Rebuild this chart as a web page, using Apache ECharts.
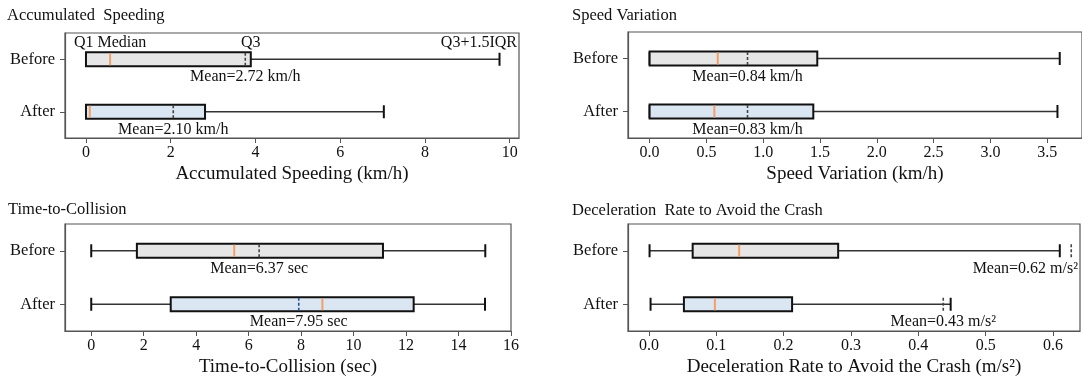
<!DOCTYPE html>
<html>
<head>
<meta charset="utf-8">
<script src="https://cdn.jsdelivr.net/npm/echarts@6/dist/echarts.min.js"></script>
<style>
  html, body { margin: 0; padding: 0; background: #fff; }
  #main { width: 1082px; height: 382px; }
</style>
</head>
<body>
<div id="main"></div>
<script>
const cats = ['Before', 'After'];

// boxes: [low whisker, Q1, median, Q3, high whisker]
const speedingBox = [[0, 0, 0.57, 3.89, 9.76], [0, 0, 0.09, 2.81, 7.03]];
const speedingMeanLine = [3.76, 2.06];
const speedingMean = [2.72, 2.10];
const speedingTicks = [0, 2, 4, 6, 8, 10];
const speedingNotes = ['Q1 Median', 'Q3', 'Q3+1.5IQR'];
const speedingNoteAt = [0.57, 3.89, 9.76];

const variationBox = [[0, 0, 0.60, 1.476, 3.61], [0, 0, 0.57, 1.441, 3.59]];
const variationMeanLine = [0.862, 0.862];
const variationMean = [0.84, 0.83];
const variationTicks = [0, 0.5, 1.0, 1.5, 2.0, 2.5, 3.0, 3.5];

const ttcBox = [[0, 1.74, 5.45, 11.12, 15.02], [0, 3.03, 8.81, 12.29, 15.01]];
const ttcMeanLine = [6.40, 7.91];
const ttcMean = [6.37, 7.95];
const ttcTicks = [0, 2, 4, 6, 8, 10, 12, 14, 16];

const dracBox = [[0.001, 0.065, 0.134, 0.281, 0.610], [0.0025, 0.052, 0.098, 0.2126, 0.448]];
const dracMeanLine = [0.627, 0.437];
const dracMean = [0.62, 0.43];
const dracTicks = [0, 0.1, 0.2, 0.3, 0.4, 0.5, 0.6];

const FONT = '"Liberation Serif", "Times New Roman", serif';
const fills = ['#e6e6e6', '#dbe6f3'];
const medianColor = '#f2a06a';

const panels = [
  {title: 'Accumulated  Speeding', tl: 7, tt: 7, name: 'Accumulated Speeding (km/h)', unit: 'km/h',
   box: speedingBox, meanLine: speedingMeanLine, mean: speedingMean, ticks: speedingTicks, digits: 0,
   min: -0.495, max: 10.22, grid: {left: 65, top: 33, width: 454, height: 105}, meanColor: ['#444', '#444']},
  {title: 'Speed Variation', tl: 572, tt: 7, name: 'Speed Variation (km/h)', unit: 'km/h',
   box: variationBox, meanLine: variationMeanLine, mean: variationMean, ticks: variationTicks, digits: 1,
   min: -0.19, max: 3.806, grid: {left: 628, top: 32, width: 456, height: 106}, meanColor: ['#444', '#444']},
  {title: 'Time-to-Collision', tl: 8, tt: 201, name: 'Time-to-Collision (sec)', unit: 'sec',
   box: ttcBox, meanLine: ttcMeanLine, mean: ttcMean, ticks: ttcTicks, digits: 0,
   min: -1, max: 16, grid: {left: 65, top: 224, width: 446, height: 107}, meanColor: ['#444', '#2b4c9b']},
  {title: 'Deceleration  Rate to Avoid the Crash', tl: 572, tt: 202, name: 'Deceleration Rate to Avoid the Crash (m/s\u00b2)', unit: 'm/s\u00b2',
   box: dracBox, meanLine: dracMeanLine, mean: dracMean, ticks: dracTicks, digits: 1,
   min: -0.031, max: 0.64, grid: {left: 628, top: 224, width: 452, height: 107}, meanColor: ['#444', '#444']}
];

const ctx = document.createElement('canvas').getContext('2d');
function textWidth(s, size) {
  ctx.font = size + 'px ' + FONT;
  return ctx.measureText(s).width;
}
// keep a centred label inside the plot frame
function clampX(x, w, cs) {
  const right = cs.x + cs.width - 2, left = cs.x + 2;
  if (x + w / 2 > right) return right - w / 2;
  if (x - w / 2 < left) return left + w / 2;
  return x;
}
function label(text, x, y, cs) {
  const w = textWidth(text, 16);
  return {type: 'text', style: {text: text, x: clampX(x, w, cs), y: y, align: 'center', verticalAlign: 'middle',
    fontSize: 16, fontFamily: FONT, fill: '#111'}};
}
function vline(x, yc, h, stroke, width, dash) {
  return {type: 'line', shape: {x1: x, y1: yc - h / 2, x2: x, y2: yc + h / 2},
    style: {stroke: stroke, lineWidth: width, lineDash: dash || null}};
}

function boxItem(p) {
  return function (params, api) {
    const i = params.dataIndex;
    const b = p.box[i];
    const cs = params.coordSys;
    const X = v => api.coord([v, i])[0];
    const yc = api.coord([0, i])[1];
    const bh = 14, ch = 13;
    const children = [
      {type: 'line', shape: {x1: X(b[0]), y1: yc, x2: X(b[1]), y2: yc}, style: {stroke: '#333', lineWidth: 1.6}},
      {type: 'line', shape: {x1: X(b[3]), y1: yc, x2: X(b[4]), y2: yc}, style: {stroke: '#333', lineWidth: 1.6}},
      vline(X(b[0]), yc, ch, '#111', 2),
      vline(X(b[4]), yc, ch, '#111', 2),
      {type: 'rect', shape: {x: X(b[1]), y: yc - bh / 2, width: X(b[3]) - X(b[1]), height: bh},
        style: {fill: fills[i], stroke: '#111', lineWidth: 2}},
      vline(X(b[2]), yc, bh - 2, medianColor, 2),
      vline(X(p.meanLine[i]), yc, bh - 1, p.meanColor[i], 1.6, [3, 2]),
      label('Mean=' + p.mean[i].toFixed(2) + ' ' + p.unit, X(p.meanLine[i]), yc + 18, cs)
    ];
    return {type: 'group', children: children};
  };
}

function noteItem(params, api) {
  const i = params.dataIndex;
  const x = api.coord([speedingNoteAt[i], 0])[0];
  const y = api.coord([0, 0])[1];
  return label(speedingNotes[i], x, y - 16, params.coordSys);
}

const chart = echarts.init(document.getElementById('main'));
const option = {
  animation: false,
  title: panels.map(p => ({text: p.title, left: p.tl, top: p.tt, padding: 0,
    textStyle: {fontFamily: FONT, fontSize: 16.5, fontWeight: 'normal', color: '#111'}})),
  grid: panels.map(p => Object.assign({show: true, borderColor: '#555', borderWidth: 1.2, backgroundColor: 'transparent'}, p.grid)),
  xAxis: panels.map((p, k) => ({
    type: 'value', gridIndex: k, min: p.min, max: p.max,
    name: p.name, nameLocation: 'middle', nameGap: 27,
    nameTextStyle: {fontFamily: FONT, fontSize: 19, color: '#111'},
    axisLine: {show: true, onZero: false, lineStyle: {color: '#555', width: 1.2}},
    axisTick: {show: true, length: 5, lineStyle: {color: '#555'}, customValues: p.ticks},
    axisLabel: {fontFamily: FONT, fontSize: 16, color: '#111', margin: 7, customValues: p.ticks,
      formatter: v => v.toFixed(p.digits)},
    splitLine: {show: false}
  })),
  yAxis: panels.map((p, k) => ({
    type: 'category', gridIndex: k, data: cats, inverse: true,
    axisLine: {show: true, onZero: false, lineStyle: {color: '#555', width: 1.2}},
    axisTick: {show: true, length: 5, alignWithLabel: true, lineStyle: {color: '#555'}},
    axisLabel: {fontFamily: FONT, fontSize: 16.5, color: '#111', margin: 10},
    splitLine: {show: false}
  })),
  series: panels.map((p, k) => ({
    type: 'custom', xAxisIndex: k, yAxisIndex: k,
    data: cats.map((c, i) => [p.box[i][4], i]),
    encode: {x: 0, y: 1},
    renderItem: boxItem(p),
    clip: false
  })).concat([{
    type: 'custom', xAxisIndex: 0, yAxisIndex: 0,
    data: speedingNoteAt.map(v => [v, 0]),
    encode: {x: 0, y: 1},
    renderItem: noteItem,
    clip: false
  }])
};
chart.setOption(option);
</script>
</body>
</html>
